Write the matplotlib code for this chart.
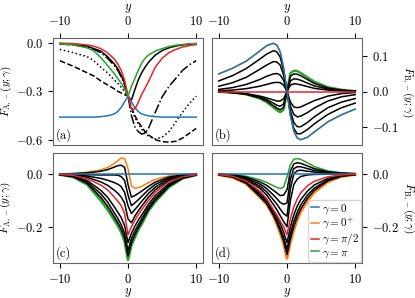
import matplotlib
matplotlib.use("Agg")
import matplotlib.pyplot as plt

plt.rcParams['font.family'] = 'serif'
plt.rcParams['font.serif'] = ['cmr10', 'DejaVu Serif']
plt.rcParams['mathtext.fontset'] = 'cm'
plt.rcParams['axes.formatter.use_mathtext'] = True
plt.rcParams['font.size'] = 9

# ---- panel (a) data ----
ya = [-10, -8, -6, -5, -4, -3, -2, -1.5, -1, -0.5, 0, 0.5, 1, 1.5, 2, 2.5, 3, 4, 5, 6, 7, 8, 9, 10]
a_blue = [-0.46, -0.46, -0.46, -0.46, -0.457, -0.452, -0.44, -0.425, -0.4, -0.365, -0.33, -0.365, -0.4,
          -0.425, -0.44, -0.447, -0.452, -0.457, -0.46, -0.46, -0.46, -0.46, -0.46, -0.46]
a_green = [-0.005, -0.012, -0.03, -0.05, -0.09, -0.14, -0.19, -0.22, -0.25, -0.285, -0.33, -0.27, -0.22,
           -0.17, -0.125, -0.095, -0.075, -0.05, -0.035, -0.022, -0.014, -0.009, -0.005, -0.003]
a_red = [-0.001, -0.004, -0.012, -0.02, -0.035, -0.06, -0.1, -0.13, -0.17, -0.23, -0.33, -0.41, -0.41,
         -0.37, -0.32, -0.28, -0.24, -0.15, -0.095, -0.06, -0.04, -0.025, -0.016, -0.01]
a_solid = [-0.003, -0.008, -0.02, -0.035, -0.05, -0.085, -0.13, -0.16, -0.2, -0.25, -0.33, -0.355, -0.29,
           -0.23, -0.185, -0.15, -0.12, -0.075, -0.047, -0.03, -0.019, -0.012, -0.007, -0.004]
a_dashdot = [-0.006, -0.012, -0.026, -0.04, -0.06, -0.095, -0.14, -0.17, -0.21, -0.26, -0.33, -0.45, -0.52,
             -0.55, -0.565, -0.56, -0.53, -0.43, -0.335, -0.27, -0.22, -0.17, -0.135, -0.11]
a_dotted = [-0.04, -0.06, -0.085, -0.11, -0.15, -0.185, -0.23, -0.25, -0.275, -0.3, -0.33, -0.41, -0.46,
            -0.5, -0.535, -0.56, -0.578, -0.595, -0.585, -0.55, -0.49, -0.43, -0.375, -0.33]
a_dashed = [-0.11, -0.145, -0.185, -0.205, -0.235, -0.26, -0.285, -0.3, -0.31, -0.32, -0.33, -0.4, -0.45,
            -0.49, -0.52, -0.55, -0.57, -0.6, -0.612, -0.615, -0.61, -0.59, -0.56, -0.53]

# ---- common grid for (b), (c), (d) ----
yg = [-10, -8, -6, -4, -3, -2, -1.5, -1, -0.5, 0, 0.5, 1, 1.5, 2, 3, 4, 6, 8, 10]

# panel (b)
b_blue = [0.05, 0.066, 0.086, 0.115, 0.13, 0.137, 0.132, 0.113, 0.068, 0, -0.068, -0.113, -0.132, -0.137,
          -0.13, -0.115, -0.086, -0.066, -0.05]
b_red = [0] * 19
b_green = [-0.001, -0.003, -0.008, -0.02, -0.03, -0.045, -0.053, -0.059, -0.052, 0, 0.052, 0.059, 0.058,
           0.053, 0.04, 0.028, 0.012, 0.005, 0.001]
b_black = [
    [0.03, 0.045, 0.065, 0.092, 0.106, 0.116, 0.113, 0.098, 0.06, 0, -0.065, -0.105, -0.12, -0.12, -0.108,
     -0.092, -0.065, -0.046, -0.033],
    [0.015, 0.025, 0.04, 0.063, 0.075, 0.085, 0.084, 0.075, 0.047, 0, -0.055, -0.088, -0.1, -0.1, -0.088,
     -0.072, -0.046, -0.03, -0.02],
    [0.006, 0.011, 0.02, 0.034, 0.043, 0.05, 0.051, 0.047, 0.032, 0, -0.042, -0.065, -0.072, -0.07, -0.06,
     -0.047, -0.027, -0.015, -0.009],
    [0.002, 0.004, 0.008, 0.015, 0.02, 0.025, 0.026, 0.025, 0.018, 0, -0.03, -0.044, -0.046, -0.044, -0.035,
     -0.026, -0.013, -0.006, -0.003],
    [-0.001, -0.003, -0.006, -0.013, -0.018, -0.024, -0.027, -0.027, -0.021, 0, 0.018, 0.022, 0.021, 0.019,
     0.014, 0.009, 0.004, 0.002, 0.001],
    [-0.001, -0.003, -0.007, -0.016, -0.023, -0.033, -0.039, -0.042, -0.035, 0, 0.03, 0.036, 0.035, 0.032,
     0.024, 0.016, 0.007, 0.003, 0.001],
    [-0.001, -0.003, -0.008, -0.018, -0.027, -0.04, -0.047, -0.052, -0.045, 0, 0.043, 0.05, 0.049, 0.045,
     0.034, 0.023, 0.01, 0.004, 0.001],
]

# panel (c)
c_blue = [0] * 19
c_orange = [0.0, 0.002, 0.006, 0.015, 0.024, 0.04, 0.05, 0.06, 0.058, 0.02, -0.045, -0.055, -0.052, -0.047,
            -0.033, -0.021, -0.008, -0.003, -0.001]
c_red = [-0.002, -0.006, -0.018, -0.042, -0.06, -0.088, -0.103, -0.12, -0.15, -0.23, -0.2, -0.175, -0.155,
         -0.136, -0.1, -0.07, -0.03, -0.011, -0.003]
c_green = [-0.003, -0.012, -0.04, -0.1, -0.135, -0.175, -0.195, -0.22, -0.255, -0.325, -0.27, -0.24, -0.212,
           -0.19, -0.14, -0.105, -0.05, -0.017, -0.004]
c_black = [
    [0.0, 0.001, 0.004, 0.01, 0.016, 0.026, 0.031, 0.033, 0.025, -0.04, -0.088, -0.082, -0.074, -0.065,
     -0.047, -0.031, -0.012, -0.004, -0.001],
    [-0.001, -0.002, -0.003, -0.004, -0.004, -0.004, -0.005, -0.01, -0.025, -0.08, -0.12, -0.11, -0.098,
     -0.085, -0.06, -0.04, -0.016, -0.006, -0.002],
    [-0.001, -0.003, -0.008, -0.017, -0.024, -0.033, -0.039, -0.048, -0.07, -0.12, -0.15, -0.135, -0.12,
     -0.104, -0.074, -0.05, -0.02, -0.007, -0.002],
    [-0.002, -0.005, -0.013, -0.03, -0.043, -0.062, -0.073, -0.088, -0.11, -0.17, -0.185, -0.16, -0.14,
     -0.122, -0.088, -0.06, -0.025, -0.009, -0.003],
    [-0.002, -0.008, -0.025, -0.062, -0.088, -0.125, -0.145, -0.165, -0.195, -0.26, -0.225, -0.198, -0.175,
     -0.156, -0.115, -0.082, -0.037, -0.013, -0.003],
    [-0.003, -0.01, -0.031, -0.075, -0.106, -0.148, -0.168, -0.192, -0.225, -0.29, -0.245, -0.216, -0.192,
     -0.17, -0.126, -0.092, -0.042, -0.015, -0.004],
    [-0.003, -0.011, -0.036, -0.088, -0.122, -0.163, -0.184, -0.208, -0.242, -0.31, -0.26, -0.23, -0.204,
     -0.182, -0.134, -0.1, -0.047, -0.016, -0.004],
]

# panel (d)
d_blue = [0] * 19
d_green = [-0.001, -0.003, -0.009, -0.022, -0.032, -0.045, -0.051, -0.056, -0.05, -0.012, 0.035, 0.055,
           0.058, 0.055, 0.042, 0.028, 0.011, 0.004, 0.001]
d_red = [-0.003, -0.009, -0.027, -0.065, -0.093, -0.135, -0.155, -0.178, -0.2, -0.23, -0.17, -0.125, -0.095,
         -0.072, -0.045, -0.028, -0.011, -0.004, -0.001]
d_orange = [-0.004, -0.013, -0.037, -0.088, -0.115, -0.16, -0.19, -0.225, -0.265, -0.32, -0.26, -0.212,
            -0.175, -0.145, -0.102, -0.07, -0.03, -0.01, -0.003]
d_black = [
    [-0.001, -0.004, -0.012, -0.03, -0.043, -0.062, -0.072, -0.082, -0.08, -0.06, 0.01, 0.038, 0.042, 0.04,
     0.03, 0.02, 0.008, 0.003, 0.001],
    [-0.001, -0.005, -0.015, -0.038, -0.055, -0.08, -0.093, -0.108, -0.115, -0.11, -0.02, 0.02, 0.027, 0.027,
     0.02, 0.013, 0.005, 0.002, 0.0],
    [-0.002, -0.006, -0.019, -0.046, -0.067, -0.098, -0.114, -0.133, -0.15, -0.16, -0.055, 0.0, 0.012, 0.014,
     0.01, 0.007, 0.002, 0.001, 0.0],
    [-0.002, -0.007, -0.022, -0.054, -0.079, -0.116, -0.135, -0.158, -0.18, -0.2, -0.1, -0.04, -0.02, -0.01,
     -0.004, -0.002, -0.001, 0.0, 0.0],
    [-0.003, -0.01, -0.03, -0.072, -0.1, -0.14, -0.162, -0.188, -0.22, -0.26, -0.2, -0.155, -0.122, -0.098,
     -0.065, -0.042, -0.017, -0.006, -0.002],
    [-0.003, -0.011, -0.033, -0.08, -0.107, -0.15, -0.175, -0.205, -0.24, -0.285, -0.225, -0.18, -0.145,
     -0.118, -0.08, -0.054, -0.022, -0.008, -0.002],
    [-0.004, -0.012, -0.035, -0.085, -0.112, -0.156, -0.183, -0.216, -0.253, -0.305, -0.245, -0.198, -0.162,
     -0.133, -0.092, -0.062, -0.026, -0.009, -0.003],
]

xticks = [-10, 0, 10]
legend_labels = [r'$\gamma=0$', r'$\gamma=0^{+}$', r'$\gamma=\pi/2$', r'$\gamma=\pi$']

C_BLUE, C_ORANGE, C_RED, C_GREEN = '#1f77b4', '#ff7f0e', '#e3242b', '#2ca02c'
LW = 1.1
YL = 8  # y-label font size

fig = plt.figure(figsize=(4.15, 2.98), dpi=100)
W = 150 / 415
ax_a = fig.add_axes([53 / 415, 1 - 145 / 298, W, 107 / 298])
ax_b = fig.add_axes([212 / 415, 1 - 145 / 298, W, 107 / 298])
ax_c = fig.add_axes([53 / 415, 1 - 263 / 298, W, 110 / 298])
ax_d = fig.add_axes([212 / 415, 1 - 263 / 298, W, 110 / 298])

# (a)
ax_a.plot(ya, a_solid, color='k', lw=LW)
ax_a.plot(ya, a_dashdot, color='k', lw=LW, ls='-.')
ax_a.plot(ya, a_dotted, color='k', lw=LW, ls=':')
ax_a.plot(ya, a_dashed, color='k', lw=LW, ls='--')
ax_a.plot(ya, a_blue, color=C_BLUE, lw=LW)
ax_a.plot(ya, a_red, color=C_RED, lw=LW)
ax_a.plot(ya, a_green, color=C_GREEN, lw=LW)
ax_a.set_ylim(-0.633, 0.031)
ax_a.set_yticks([0.0, -0.3, -0.6])
ax_a.set_ylabel(r'$F_{\mathrm{A},-}(y;\gamma)$', labelpad=1, fontsize=YL)

# (b)
ax_b.plot(yg, b_green, color=C_GREEN, lw=LW + 0.6)
ax_b.plot(yg, b_blue, color=C_ORANGE, lw=LW)
for s in b_black:
    ax_b.plot(yg, s, color='k', lw=LW)
ax_b.plot(yg, b_blue, color=C_BLUE, lw=LW)
ax_b.plot(yg, b_red, color=C_RED, lw=LW)
ax_b.set_ylim(-0.152, 0.152)
ax_b.set_yticks([0.1, 0.0, -0.1])
ax_b.set_ylabel(r'$F_{\mathrm{B},-}(y;\gamma)$', rotation=270, labelpad=12, fontsize=YL)

# (c)
ax_c.plot(yg, c_green, color=C_GREEN, lw=LW + 0.8)
ax_c.plot(yg, c_orange, color=C_ORANGE, lw=LW)
for s in c_black:
    ax_c.plot(yg, s, color='k', lw=LW)
ax_c.plot(yg, c_blue, color=C_BLUE, lw=LW)
ax_c.plot(yg, c_red, color=C_RED, lw=LW)
ax_c.set_ylim(-0.337, 0.079)
ax_c.set_yticks([0.0, -0.2])
ax_c.set_ylabel(r'$\tilde{F}_{\mathrm{A},-}(y;\gamma)$', labelpad=1, fontsize=YL)

# (d)
ax_d.plot(yg, d_orange, color=C_ORANGE, lw=LW + 0.8)
ax_d.plot(yg, d_green, color=C_GREEN, lw=LW)
for s in d_black:
    ax_d.plot(yg, s, color='k', lw=LW)
h_blue, = ax_d.plot(yg, d_blue, color=C_BLUE, lw=LW)
h_red, = ax_d.plot(yg, d_red, color=C_RED, lw=LW)
h_or, = ax_d.plot([], [], color=C_ORANGE, lw=LW)
h_gr, = ax_d.plot([], [], color=C_GREEN, lw=LW)
ax_d.set_ylim(-0.337, 0.079)
ax_d.set_yticks([0.0, -0.2])
ax_d.set_ylabel(r'$\tilde{F}_{\mathrm{B},-}(y;\gamma)$', rotation=270, labelpad=13, fontsize=YL)
ax_d.legend([h_blue, h_or, h_red, h_gr], legend_labels, loc='lower right', fontsize=8,
            handlelength=0.8, handletextpad=0.2, borderpad=0.2, labelspacing=0.0,
            borderaxespad=0.1)

for ax, lab in zip([ax_a, ax_b, ax_c, ax_d], ['(a)', '(b)', '(c)', '(d)']):
    ax.set_xlim(-11, 11)
    ax.set_xticks(xticks)
    for sp in ax.spines.values():
        sp.set_color('0.4')
    ax.text(0.02, 0.03, lab, transform=ax.transAxes, fontsize=9, ha='left', va='bottom')

for ax in [ax_a, ax_b]:
    ax.xaxis.tick_top()
    ax.xaxis.set_label_position('top')
    ax.set_xlabel(r'$y$', labelpad=4)
for ax in [ax_c, ax_d]:
    ax.set_xlabel(r'$y$', labelpad=0)
for ax in [ax_b, ax_d]:
    ax.yaxis.tick_right()
    ax.yaxis.set_label_position('right')

fig.savefig('out.png', dpi=100)
